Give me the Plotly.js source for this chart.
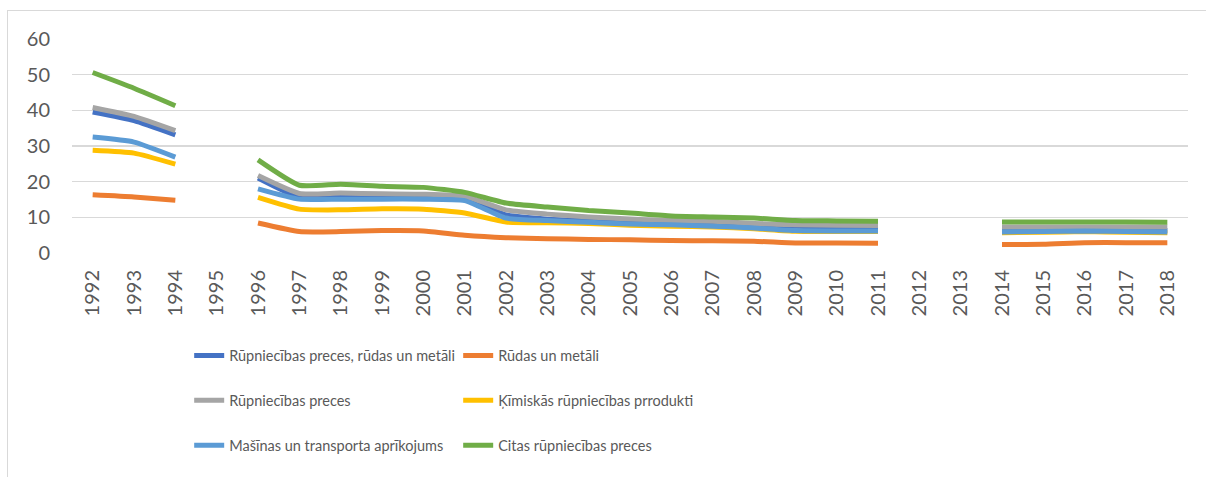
<!DOCTYPE html>
<html>
<head>
<meta charset="utf-8">
<script src="https://cdn.plot.ly/plotly-3.0.1.min.js"></script>
<style>
  html, body { margin: 0; padding: 0; background: #fff; }
  #wrap { position: relative; width: 1206px; height: 477px; overflow: hidden; }
  #chart { width: 1206px; height: 477px; }
  #frame { position: absolute; left: 7px; top: 10px; width: 1400px; height: 700px;
           border: 1px solid #d9d9d9; pointer-events: none; box-sizing: border-box; }
</style>
</head>
<body>
<div id="wrap"><div id="chart"></div><div id="frame"></div></div>
<script>
const years = [1992,1993,1994,1995,1996,1997,1998,1999,2000,2001,2002,2003,2004,2005,2006,2007,2008,2009,2010,2011,2012,2013,2014,2015,2016,2017,2018];

const seriesNames = [
  "Rūpniecības preces, rūdas un metāli",
  "Rūdas un metāli",
  "Rūpniecības preces",
  "Ķīmiskās rūpniecības prrodukti",
  "Mašīnas un transporta aprīkojums",
  "Citas rūpniecības preces"
];

const rupnRudasMetali = [39.5,37.1,33.1,null,21.0,15.6,15.6,15.5,15.6,15.2,10.7,9.5,9.0,8.5,8.3,8.0,7.5,6.8,6.7,6.6,null,null,6.3,6.4,6.6,6.4,6.3];
const rudasMetali     = [16.3,15.7,14.8,null,8.4,6.0,6.0,6.3,6.2,5.0,4.3,4.0,3.8,3.7,3.5,3.4,3.3,2.8,2.8,2.7,null,null,2.4,2.45,2.9,2.9,2.9];
const rupnPreces      = [40.8,38.3,34.3,null,21.7,16.7,16.8,16.6,16.5,15.9,12.1,10.9,10.1,9.5,9.1,8.9,8.3,7.9,7.8,7.7,null,null,7.3,7.3,7.3,7.3,7.3];
const kimiskie        = [28.8,28.0,24.9,null,15.6,12.3,12.1,12.4,12.3,11.2,8.7,8.5,8.3,7.8,7.5,7.3,6.8,6.1,6.0,6.0,null,null,5.7,5.8,6.0,5.8,5.7];
const masinas         = [32.5,31.1,26.9,null,18.0,15.1,15.1,15.1,15.1,14.7,9.8,9.1,8.6,8.1,7.9,7.5,7.0,6.3,6.2,6.2,null,null,5.9,6.0,6.2,6.0,5.9];
const citas           = [50.6,46.2,41.3,null,26.1,19.0,19.3,18.7,18.4,17.0,14.0,12.9,11.9,11.2,10.4,10.1,9.8,9.1,9.0,8.9,null,null,8.7,8.7,8.7,8.7,8.6];

const allValues = [rupnRudasMetali, rudasMetali, rupnPreces, kimiskie, masinas, citas];
const colors = ["#4472C4","#ED7D31","#A5A5A5","#FFC000","#5B9BD5","#70AD47"];
const legendIds = ["legend","legend","legend2","legend2","legend3","legend3"];

const FONT = "Lato, 'Open Sans', sans-serif";

const data = allValues.map((vals, i) => ({
  x: years,
  y: vals,
  name: seriesNames[i],
  type: "scatter",
  mode: "lines",
  connectgaps: false,
  line: { color: colors[i], width: 5, shape: "spline", smoothing: 0.5 },
  legend: legendIds[i],
  hoverinfo: "skip"
}));

const legendBase = {
  orientation: "h",
  x: 0.105,
  xanchor: "left",
  yanchor: "middle",
  bgcolor: "rgba(0,0,0,0)",
  borderwidth: 0,
  entrywidth: 224,
  entrywidthmode: "pixels",
  font: { family: FONT, size: 14.5, color: "#595959" },
  traceorder: "normal"
};

const layout = {
  width: 1206,
  height: 477,
  margin: { l: 72, r: 18, t: 39, b: 224, pad: 0 },
  paper_bgcolor: "#ffffff",
  plot_bgcolor: "#ffffff",
  showlegend: true,
  font: { family: FONT, color: "#595959" },
  xaxis: {
    range: [1991.5, 2018.5],
    tickmode: "array",
    tickvals: years,
    ticktext: years.map(String),
    tickangle: -90,
    showgrid: false,
    zeroline: false,
    showline: false,
    ticks: "",
    ticklabelstandoff: 12,
    tickfont: { family: FONT, size: 20, color: "#595959" },
    fixedrange: true
  },
  yaxis: {
    range: [0, 60],
    dtick: 10,
    tick0: 0,
    showgrid: true,
    gridcolor: "#d9d9d9",
    gridwidth: 1.3,
    zeroline: false,
    showline: false,
    ticks: "",
    ticklabelstandoff: 21,
    tickfont: { family: FONT, size: 20, color: "#595959" },
    fixedrange: true
  },
  legend:  Object.assign({}, legendBase, { y: -0.479 }),
  legend2: Object.assign({}, legendBase, { y: -0.689 }),
  legend3: Object.assign({}, legendBase, { y: -0.899 })
};

Plotly.newPlot("chart", data, layout, { displayModeBar: false, staticPlot: true });
</script>
</body>
</html>
